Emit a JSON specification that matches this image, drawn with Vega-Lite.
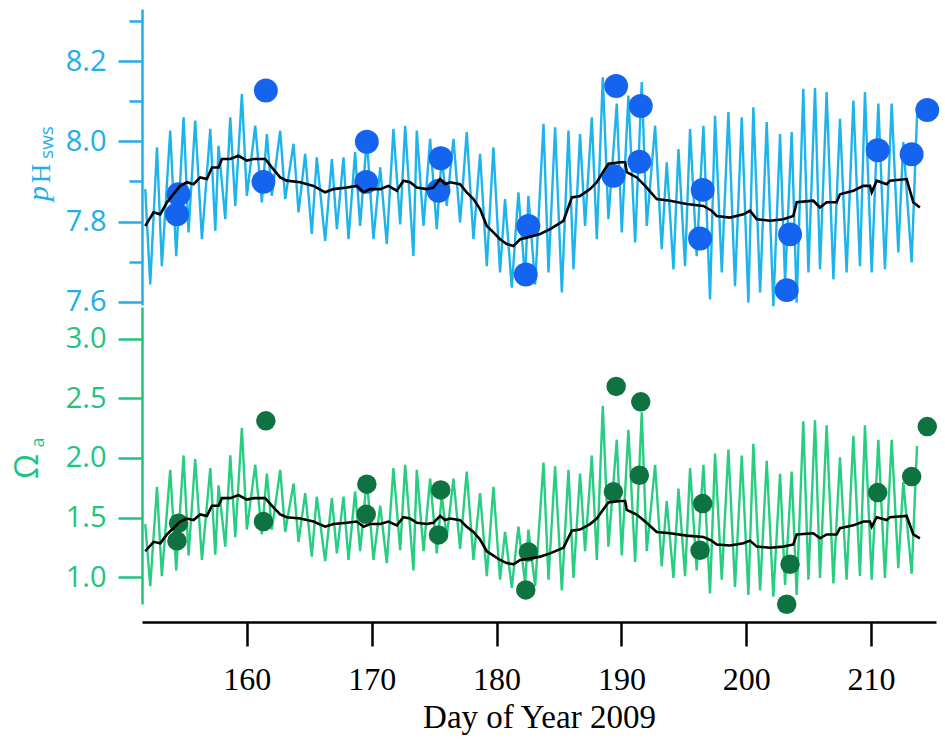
{
  "$schema": "https://vega.github.io/schema/vega-lite/v6.json",
  "padding": {"left": 11, "top": 9, "right": 5, "bottom": 5},
  "background": "white",
  "config": {"view": {"stroke": null}, "axis": {"grid": false}},
  "spacing": 2,
  "bounds": "flush",
  "datasets": {
    "trace": [
      {"d":151.86,"ph":7.881,"om":1.446},{"d":152.26,"ph":7.643,"om":0.926},{"d":152.80,"ph":7.985,"om":1.757},{"d":153.19,"ph":7.689,"om":1.010},
      {"d":153.86,"ph":8.027,"om":1.900},{"d":154.34,"ph":7.714,"om":1.058},{"d":154.93,"ph":8.060,"om":2.021},{"d":155.33,"ph":7.773,"om":1.182},
      {"d":155.86,"ph":8.052,"om":1.991},{"d":156.40,"ph":7.756,"om":1.145},{"d":157.07,"ph":8.031,"om":1.915},{"d":157.47,"ph":7.777,"om":1.190},
      {"d":157.73,"ph":7.989,"om":1.770},{"d":158.27,"ph":7.806,"om":1.257},{"d":158.67,"ph":8.060,"om":2.021},{"d":159.07,"ph":7.839,"om":1.337},
      {"d":159.60,"ph":8.118,"om":2.253},{"d":160.00,"ph":7.864,"om":1.400},{"d":160.67,"ph":8.039,"om":1.943},{"d":161.20,"ph":7.848,"om":1.359},
      {"d":161.60,"ph":8.018,"om":1.868},{"d":162.00,"ph":7.864,"om":1.400},{"d":162.67,"ph":8.027,"om":1.900},{"d":163.07,"ph":7.856,"om":1.380},
      {"d":163.74,"ph":7.994,"om":1.786},{"d":164.14,"ph":7.823,"om":1.297},{"d":164.67,"ph":7.969,"om":1.705},{"d":165.20,"ph":7.769,"om":1.173},
      {"d":165.60,"ph":7.960,"om":1.676},{"d":166.27,"ph":7.752,"om":1.136},{"d":166.81,"ph":7.956,"om":1.663},{"d":167.21,"ph":7.781,"om":1.200},
      {"d":167.74,"ph":7.960,"om":1.676},{"d":168.14,"ph":7.756,"om":1.145},{"d":168.67,"ph":7.973,"om":1.717},{"d":169.07,"ph":7.789,"om":1.218},
      {"d":169.61,"ph":8.006,"om":1.826},{"d":170.14,"ph":7.756,"om":1.145},{"d":170.68,"ph":7.935,"om":1.600},{"d":171.21,"ph":7.744,"om":1.119},
      {"d":171.74,"ph":8.031,"om":1.915},{"d":172.28,"ph":7.793,"om":1.227},{"d":172.68,"ph":8.039,"om":1.943},{"d":173.34,"ph":7.714,"om":1.058},
      {"d":173.61,"ph":8.027,"om":1.900},{"d":174.15,"ph":7.789,"om":1.218},{"d":174.68,"ph":8.006,"om":1.826},{"d":175.21,"ph":7.781,"om":1.200},
      {"d":175.61,"ph":7.964,"om":1.689},{"d":176.01,"ph":7.839,"om":1.337},{"d":176.55,"ph":8.006,"om":1.826},{"d":177.08,"ph":7.798,"om":1.238},
      {"d":177.61,"ph":8.023,"om":1.886},{"d":178.15,"ph":7.756,"om":1.145},{"d":178.68,"ph":7.969,"om":1.705},{"d":179.22,"ph":7.689,"om":1.010},
      {"d":179.75,"ph":7.985,"om":1.757},{"d":180.28,"ph":7.673,"om":0.980},{"d":180.68,"ph":7.856,"om":1.380},{"d":181.22,"ph":7.635,"om":0.912},
      {"d":181.75,"ph":7.873,"om":1.424},{"d":182.29,"ph":7.656,"om":0.949},{"d":182.55,"ph":7.864,"om":1.400},{"d":183.09,"ph":7.643,"om":0.926},
      {"d":183.76,"ph":8.044,"om":1.961},{"d":184.16,"ph":7.673,"om":0.980},{"d":184.69,"ph":8.035,"om":1.929},{"d":185.23,"ph":7.623,"om":0.890},
      {"d":185.76,"ph":8.027,"om":1.900},{"d":186.16,"ph":7.681,"om":0.995},{"d":186.69,"ph":8.018,"om":1.868},{"d":187.09,"ph":7.789,"om":1.218},
      {"d":187.63,"ph":8.060,"om":2.021},{"d":188.03,"ph":7.756,"om":1.145},{"d":188.51,"ph":8.160,"om":2.436},{"d":188.96,"ph":7.806,"om":1.257},
      {"d":189.63,"ph":8.094,"om":2.153},{"d":190.03,"ph":7.773,"om":1.182},{"d":190.56,"ph":8.114,"om":2.236},{"d":191.10,"ph":7.748,"om":1.128},
      {"d":191.63,"ph":8.148,"om":2.382},{"d":192.03,"ph":7.789,"om":1.218},{"d":192.70,"ph":8.039,"om":1.943},{"d":193.23,"ph":7.731,"om":1.092},
      {"d":193.63,"ph":7.948,"om":1.639},{"d":194.17,"ph":7.681,"om":0.995},{"d":194.57,"ph":7.981,"om":1.743},{"d":195.10,"ph":7.689,"om":1.010},
      {"d":195.50,"ph":8.031,"om":1.915},{"d":196.03,"ph":7.714,"om":1.058},{"d":196.57,"ph":8.039,"om":1.943},{"d":197.10,"ph":7.606,"om":0.865},
      {"d":197.50,"ph":8.064,"om":2.036},{"d":198.04,"ph":7.673,"om":0.980},{"d":198.57,"ph":8.073,"om":2.071},{"d":199.10,"ph":7.639,"om":0.919},
      {"d":199.64,"ph":8.060,"om":2.021},{"d":200.17,"ph":7.598,"om":0.852},{"d":200.57,"ph":8.085,"om":2.118},{"d":201.11,"ph":7.623,"om":0.890},
      {"d":201.64,"ph":8.048,"om":1.975},{"d":202.17,"ph":7.589,"om":0.838},{"d":202.71,"ph":8.018,"om":1.868},{"d":203.11,"ph":7.648,"om":0.935},
      {"d":203.64,"ph":8.023,"om":1.886},{"d":204.04,"ph":7.598,"om":0.852},{"d":204.57,"ph":8.131,"om":2.307},{"d":204.98,"ph":7.673,"om":0.980},
      {"d":205.51,"ph":8.133,"om":2.316},{"d":205.91,"ph":7.681,"om":0.995},{"d":206.44,"ph":8.123,"om":2.273},{"d":206.98,"ph":7.656,"om":0.949},
      {"d":207.51,"ph":8.056,"om":2.006},{"d":208.04,"ph":7.673,"om":0.980},{"d":208.58,"ph":8.102,"om":2.186},{"d":209.11,"ph":7.689,"om":1.010},
      {"d":209.51,"ph":8.123,"om":2.273},{"d":210.05,"ph":7.673,"om":0.980},{"d":210.58,"ph":8.094,"om":2.153},{"d":211.11,"ph":7.681,"om":0.995},
      {"d":211.65,"ph":8.094,"om":2.153},{"d":212.18,"ph":7.723,"om":1.076},{"d":212.58,"ph":7.998,"om":1.799},{"d":213.25,"ph":7.698,"om":1.029},
      {"d":213.68,"ph":8.065,"om":2.100}
    ],
    "mean": [
      {"d":151.86,"ph":7.789,"om":1.218},{"d":152.53,"ph":7.823,"om":1.297},{"d":153.06,"ph":7.818,"om":1.285},{"d":153.60,"ph":7.848,"om":1.359},
      {"d":154.13,"ph":7.869,"om":1.413},{"d":154.66,"ph":7.889,"om":1.467},{"d":155.20,"ph":7.898,"om":1.492},{"d":155.73,"ph":7.893,"om":1.479},
      {"d":156.26,"ph":7.910,"om":1.526},{"d":156.80,"ph":7.906,"om":1.514},{"d":157.20,"ph":7.935,"om":1.600},{"d":157.73,"ph":7.935,"om":1.600},
      {"d":158.00,"ph":7.956,"om":1.663},{"d":158.67,"ph":7.956,"om":1.663},{"d":159.33,"ph":7.964,"om":1.689},{"d":160.00,"ph":7.952,"om":1.651},
      {"d":160.53,"ph":7.956,"om":1.663},{"d":161.47,"ph":7.956,"om":1.663},{"d":162.00,"ph":7.935,"om":1.600},{"d":162.67,"ph":7.910,"om":1.526},
      {"d":163.20,"ph":7.902,"om":1.503},{"d":164.27,"ph":7.898,"om":1.492},{"d":165.34,"ph":7.889,"om":1.467},{"d":166.27,"ph":7.873,"om":1.424},
      {"d":166.94,"ph":7.881,"om":1.446},{"d":168.01,"ph":7.885,"om":1.457},{"d":168.81,"ph":7.889,"om":1.467},{"d":169.34,"ph":7.873,"om":1.424},
      {"d":169.87,"ph":7.881,"om":1.446},{"d":170.68,"ph":7.881,"om":1.446},{"d":171.34,"ph":7.889,"om":1.467},{"d":172.01,"ph":7.877,"om":1.435},
      {"d":172.54,"ph":7.902,"om":1.503},{"d":173.08,"ph":7.898,"om":1.492},{"d":173.61,"ph":7.885,"om":1.457},{"d":174.41,"ph":7.881,"om":1.446},
      {"d":174.95,"ph":7.885,"om":1.457},{"d":175.48,"ph":7.906,"om":1.514},{"d":175.88,"ph":7.893,"om":1.479},{"d":176.28,"ph":7.898,"om":1.492},
      {"d":177.08,"ph":7.893,"om":1.479},{"d":177.61,"ph":7.873,"om":1.424},{"d":178.15,"ph":7.856,"om":1.380},{"d":178.68,"ph":7.831,"om":1.316},
      {"d":179.22,"ph":7.789,"om":1.218},{"d":179.75,"ph":7.773,"om":1.182},{"d":180.28,"ph":7.756,"om":1.145},{"d":180.82,"ph":7.744,"om":1.119},
      {"d":181.35,"ph":7.739,"om":1.109},{"d":181.89,"ph":7.756,"om":1.145},{"d":182.42,"ph":7.760,"om":1.153},{"d":183.49,"ph":7.769,"om":1.173},
      {"d":183.76,"ph":7.773,"om":1.182},{"d":184.29,"ph":7.781,"om":1.200},{"d":185.36,"ph":7.802,"om":1.248},{"d":186.03,"ph":7.860,"om":1.390},
      {"d":186.69,"ph":7.864,"om":1.400},{"d":187.49,"ph":7.881,"om":1.446},{"d":188.03,"ph":7.898,"om":1.492},{"d":188.43,"ph":7.919,"om":1.552},
      {"d":188.96,"ph":7.944,"om":1.626},{"d":189.90,"ph":7.948,"om":1.639},{"d":190.30,"ph":7.948,"om":1.639},{"d":190.43,"ph":7.923,"om":1.564},
      {"d":191.23,"ph":7.910,"om":1.526},{"d":191.90,"ph":7.889,"om":1.467},{"d":192.83,"ph":7.856,"om":1.380},{"d":193.90,"ph":7.852,"om":1.369},
      {"d":195.23,"ph":7.844,"om":1.349},{"d":196.57,"ph":7.839,"om":1.337},{"d":197.23,"ph":7.827,"om":1.307},{"d":197.64,"ph":7.814,"om":1.275},
      {"d":198.70,"ph":7.810,"om":1.266},{"d":199.77,"ph":7.818,"om":1.285},{"d":200.30,"ph":7.827,"om":1.307},{"d":200.84,"ph":7.806,"om":1.257},
      {"d":201.91,"ph":7.802,"om":1.248},{"d":202.97,"ph":7.806,"om":1.257},{"d":203.77,"ph":7.814,"om":1.275},{"d":204.04,"ph":7.848,"om":1.359},
      {"d":205.37,"ph":7.852,"om":1.369},{"d":205.91,"ph":7.835,"om":1.327},{"d":206.44,"ph":7.848,"om":1.359},{"d":207.24,"ph":7.848,"om":1.359},
      {"d":207.51,"ph":7.868,"om":1.411},{"d":208.58,"ph":7.877,"om":1.435},{"d":209.38,"ph":7.889,"om":1.467},{"d":209.91,"ph":7.889,"om":1.467},
      {"d":210.05,"ph":7.873,"om":1.424},{"d":210.45,"ph":7.902,"om":1.503},{"d":211.25,"ph":7.893,"om":1.479},{"d":211.51,"ph":7.902,"om":1.503},
      {"d":212.85,"ph":7.906,"om":1.514},{"d":213.38,"ph":7.848,"om":1.359},{"d":213.91,"ph":7.835,"om":1.327}
    ],
    "pts": [
      {"d":154.53,"ph":7.868,"om":1.453},{"d":154.40,"ph":7.818,"om":1.305},{"d":161.52,"ph":8.127,"om":2.311},{"d":161.33,"ph":7.899,"om":1.467},
      {"d":169.61,"ph":7.999,"om":1.780},{"d":169.56,"ph":7.899,"om":1.528},{"d":175.53,"ph":7.958,"om":1.732},{"d":175.35,"ph":7.877,"om":1.355},
      {"d":182.55,"ph":7.789,"om":1.212},{"d":182.34,"ph":7.668,"om":0.894},{"d":189.58,"ph":8.138,"om":2.599},{"d":191.55,"ph":8.088,"om":2.470},
      {"d":191.44,"ph":7.949,"om":1.855},{"d":189.36,"ph":7.914,"om":1.716},{"d":196.51,"ph":7.879,"om":1.618},{"d":196.30,"ph":7.758,"om":1.226},
      {"d":203.51,"ph":7.768,"om":1.109},{"d":203.24,"ph":7.629,"om":0.774},{"d":210.53,"ph":7.978,"om":1.710},{"d":213.25,"ph":7.968,"om":1.844},
      {"d":214.50,"ph":8.078,"om":2.263}
    ]
  },
  "vconcat": [
    {
      "width": 794,
      "height": 296,
      "layer": [
        {
          "data": {"name": "trace"},
          "mark": {"type": "line", "color": "#1EB4EB", "strokeWidth": 2.4},
          "encoding": {
            "x": {"field": "d", "type": "quantitative", "scale": {"domain": [151.6, 215.2], "nice": false, "zero": false}, "axis": null},
            "y": {"field": "ph", "type": "quantitative", "scale": {"domain": [7.592, 8.33], "nice": false, "zero": false},
              "axis": {"orient": "left", "values": [7.6, 7.8, 8.0, 8.2], "format": ".1f", "tickSize": 24, "tickWidth": 2.5, "tickColor": "#22AEE8",
                "domainColor": "#22AEE8", "domainWidth": 2.5, "labelColor": "#22AEE8", "labelFont": "Open Sans", "labelFontSize": 29, "labelPadding": 12,
                "title": "sws", "titleFont": "Open Sans", "titleFontSize": 19, "titleFontWeight": "normal", "titleColor": "#22AEE8",
                "titleX": -90, "titleY": 133, "titleAngle": 270, "titleAlign": "center", "titleBaseline": "alphabetic"}}
          }
        },
        {
          "data": {"name": "pts"},
          "mark": {"type": "circle", "color": "#1464F0", "opacity": 1, "size": 572},
          "encoding": {
            "x": {"field": "d", "type": "quantitative", "scale": {"domain": [151.6, 215.2], "nice": false, "zero": false}, "axis": null},
            "y": {"field": "ph", "type": "quantitative", "scale": {"domain": [7.592, 8.33], "nice": false, "zero": false},
              "axis": {"orient": "left", "ticks": false, "labels": false, "domain": false,
                "title": "H", "titleFont": "Liberation Serif", "titleFontSize": 27, "titleFontWeight": "normal", "titleColor": "#22AEE8",
                "titleX": -93, "titleY": 164, "titleAngle": 270, "titleAlign": "center", "titleBaseline": "alphabetic"}}
          }
        },
        {
          "data": {"name": "mean"},
          "mark": {"type": "line", "color": "black", "strokeWidth": 2.6},
          "encoding": {
            "x": {"field": "d", "type": "quantitative", "scale": {"domain": [151.6, 215.2], "nice": false, "zero": false}, "axis": null},
            "y": {"field": "ph", "type": "quantitative", "scale": {"domain": [7.592, 8.33], "nice": false, "zero": false},
              "axis": {"orient": "left", "values": [7.7, 7.9, 8.1, 8.3], "tickSize": 13, "tickWidth": 2.5, "tickColor": "#22AEE8", "labels": false, "domain": false,
                "title": "p", "titleFont": "Liberation Serif", "titleFontStyle": "italic", "titleFontSize": 30, "titleFontWeight": "normal", "titleColor": "#22AEE8",
                "titleX": -95, "titleY": 184, "titleAngle": 270, "titleAlign": "center", "titleBaseline": "alphabetic"}}
          }
        }
      ],
      "resolve": {"axis": {"y": "independent"}}
    },
    {
      "width": 794,
      "height": 297,
      "layer": [
        {
          "data": {"name": "trace"},
          "mark": {"type": "line", "color": "#28CD82", "strokeWidth": 2.4},
          "encoding": {
            "x": {"field": "d", "type": "quantitative", "scale": {"domain": [151.6, 215.2], "nice": false, "zero": false},
              "axis": {"values": [160, 170, 180, 190, 200, 210], "format": "d", "offset": 18, "domainColor": "black", "domainWidth": 2.5,
                "tickColor": "black", "tickWidth": 2.5, "tickSize": 24, "labelFont": "Liberation Serif", "labelFontSize": 32, "labelColor": "black",
                "labelPadding": 18, "title": "Day of Year 2009", "titleFont": "Liberation Serif", "titleFontSize": 33, "titleFontWeight": "normal",
                "titleColor": "black", "titlePadding": 6}},
            "y": {"field": "om", "type": "quantitative", "scale": {"domain": [0.776, 3.265], "nice": false, "zero": false},
              "axis": {"orient": "left", "values": [1.0, 1.5, 2.0, 2.5, 3.0], "format": ".1f", "tickSize": 24, "tickWidth": 2.5, "tickColor": "#1EC47E",
                "domainColor": "#1EC47E", "domainWidth": 2.5, "labelColor": "#1EC47E", "labelFont": "Open Sans", "labelFontSize": 29, "labelPadding": 12,
                "title": "Ω", "titleFont": "Open Sans", "titleFontSize": 32, "titleFontWeight": "normal", "titleColor": "#1EC47E",
                "titleX": -105, "titleY": 159, "titleAngle": 270, "titleAlign": "center", "titleBaseline": "alphabetic"}}
          }
        },
        {
          "data": {"name": "pts"},
          "mark": {"type": "circle", "color": "#0F7341", "opacity": 1, "size": 380},
          "encoding": {
            "x": {"field": "d", "type": "quantitative", "scale": {"domain": [151.6, 215.2], "nice": false, "zero": false}},
            "y": {"field": "om", "type": "quantitative", "scale": {"domain": [0.776, 3.265], "nice": false, "zero": false},
              "axis": {"orient": "left", "ticks": false, "labels": false, "domain": false,
                "title": "a", "titleFont": "Open Sans", "titleFontSize": 18, "titleFontWeight": "normal", "titleColor": "#1EC47E",
                "titleX": -99, "titleY": 135, "titleAngle": 270, "titleAlign": "center", "titleBaseline": "alphabetic"}}
          }
        },
        {
          "data": {"name": "mean"},
          "mark": {"type": "line", "color": "black", "strokeWidth": 2.6},
          "encoding": {
            "x": {"field": "d", "type": "quantitative", "scale": {"domain": [151.6, 215.2], "nice": false, "zero": false}},
            "y": {"field": "om", "type": "quantitative", "scale": {"domain": [0.776, 3.265], "nice": false, "zero": false}, "axis": null}
          }
        }
      ],
      "resolve": {"axis": {"y": "independent"}}
    }
  ]
}
